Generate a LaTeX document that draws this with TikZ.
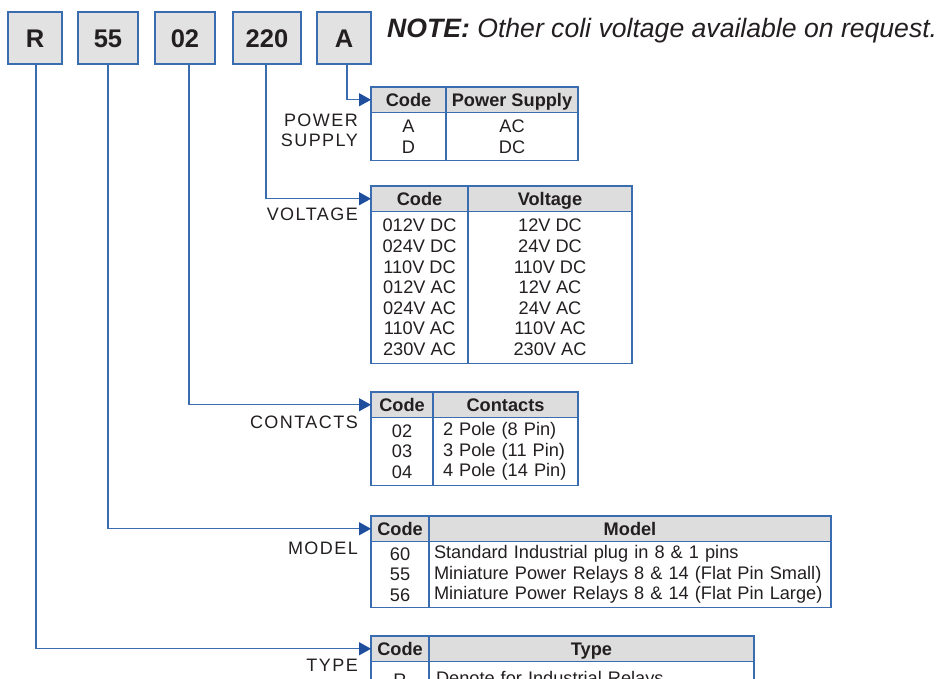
\documentclass[tikz,border=0pt]{standalone}
\usepackage{fontspec}
\setmainfont{Liberation Sans}
\usetikzlibrary{arrows.meta}
\definecolor{bord}{RGB}{58,108,176}
\definecolor{arr}{RGB}{31,79,156}
\definecolor{hfill}{RGB}{221,221,221}
\definecolor{boxfill}{RGB}{226,226,226}
\definecolor{ink}{RGB}{35,31,32}
\newcommand\tfont{\fontsize{18.2}{20.6}\selectfont}
\tikzset{
 keybox/.style={draw=bord, fill=boxfill, line width=1.2pt, minimum height=52pt, inner sep=0pt, outer sep=0pt, font=\fontsize{25.5}{30}\selectfont\bfseries, text=ink, anchor=north west, text height=18.3pt, text depth=0pt},
 hcell/.style={draw=bord, fill=hfill, line width=1.2pt, minimum height=25.5pt, inner sep=0pt, outer sep=0pt, font=\tfont\bfseries, text=ink, anchor=north west, text height=13pt, text depth=0pt},
 bcell/.style={draw=bord, line width=1.2pt, inner sep=0pt, outer sep=0pt, font=\tfont, text=ink, anchor=north west, align=center},
 conn/.style={draw=bord, line width=1.2pt, -{Triangle[length=12pt,width=13pt,color=arr]}},
 lab/.style={font=\fontsize{18}{20}\selectfont\addfontfeature{LetterSpace=8}, text=ink, anchor=east, align=right, inner sep=0pt},
}
\begin{document}
\begin{tikzpicture}[x=1pt,y=-1pt]
\useasboundingbox (0,0) rectangle (942,678);
\clip (0,0) rectangle (942,678);
% key boxes
\node[keybox, minimum width=54pt] (kR) at (8,12) {R};
\node[keybox, minimum width=60pt] (k55) at (78,12) {55};
\node[keybox, minimum width=60pt] (k02) at (155,12) {02};
\node[keybox, minimum width=68pt] (k220) at (233,12) {220};
\node[keybox, minimum width=54pt] (kA) at (317,12) {A};
\node[anchor=base west, inner sep=0pt, font=\fontsize{26.6}{30}\selectfont\itshape, text=ink] (note) at (387,37) {\textbf{NOTE:} Other coli voltage available on request.};
% power supply table
\node[hcell, minimum width=75pt] (psC) at (371,87) {Code};
\node[hcell, minimum width=132pt] (psH) at (psC.north east) {Power Supply};
\node[bcell, minimum width=75pt, minimum height=48pt] (psCb) at (psC.south west) {A\\D};
\node[bcell, minimum width=132pt, minimum height=48pt] (psHb) at (psH.south west) {AC\\DC};
\node[lab] (psL) at (358,130) {POWER\\SUPPLY};
% voltage table
\node[hcell, minimum width=97pt] (vC) at (371,186) {Code};
\node[hcell, minimum width=164pt] (vH) at (vC.north east) {Voltage};
\node[bcell, minimum width=97pt, minimum height=152pt] (vCb) at (vC.south west) {012V DC\\024V DC\\110V DC\\012V AC\\024V AC\\110V AC\\230V AC};
\node[bcell, minimum width=164pt, minimum height=152pt] (vHb) at (vH.south west) {12V DC\\24V DC\\110V DC\\12V AC\\24V AC\\110V AC\\230V AC};
\node[lab] (vL) at (358,214) {VOLTAGE};
% contacts table
\node[hcell, minimum width=62pt] (cC) at (371,392) {Code};
\node[hcell, minimum width=145pt] (cH) at (cC.north east) {Contacts};
\node[bcell, minimum width=62pt, minimum height=68pt] (cCb) at (cC.south west) {02\\03\\04};
\node[bcell, text width=125pt, inner xsep=10pt, align=left, minimum height=68pt] (cHb) at (cH.south west) {2 Pole (8 Pin)\\3 Pole (11 Pin)\\4 Pole (14 Pin)};
\node[lab] (cL) at (358,422) {CONTACTS};
% model table
\node[hcell, minimum width=58pt] (mC) at (371,516) {Code};
\node[hcell, minimum width=402pt] (mH) at (mC.north east) {Model};
\node[bcell, minimum width=58pt, minimum height=66pt] (mCb) at (mC.south west) {60\\55\\56};
\node[bcell, text width=392pt, inner xsep=5pt, align=left, minimum height=66pt] (mHb) at (mH.south west) {Standard Industrial plug in 8 \& 1 pins\\Miniature Power Relays 8 \& 14 (Flat Pin Small)\\Miniature Power Relays 8 \& 14 (Flat Pin Large)};
\node[lab] (mL) at (358,548) {MODEL};
% type table
\node[hcell, minimum width=58pt] (tC) at (371,636) {Code};
\node[hcell, minimum width=325pt] (tH) at (tC.north east) {Type};
\node[bcell, minimum width=58pt, minimum height=37pt] (tCb) at (tC.south west) {R};
\node[bcell, text width=311pt, inner xsep=7pt, align=left, minimum height=37pt] (tHb) at (tH.south west) {Denote for Industrial Relays};
\node[lab] (tL) at (358,665) {TYPE};
% connectors
\draw[conn] ([xshift=3pt]kA.south) |- (psC.west);
\draw[conn] ([xshift=-1pt]k220.south) |- (vC.west);
\draw[conn] ([xshift=4pt]k02.south) |- (cC.west);
\draw[conn] (k55.south) |- (mC.west);
\draw[conn] ([xshift=1pt]kR.south) |- (tC.west);
\end{tikzpicture}
\end{document}
